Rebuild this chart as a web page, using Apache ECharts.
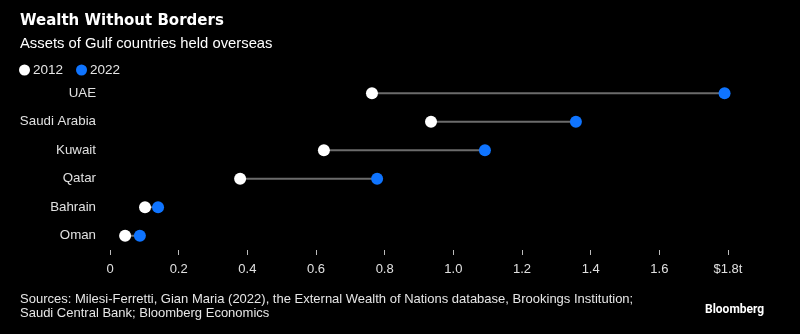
<!DOCTYPE html>
<html lang="en">
<head>
    <meta charset="UTF-8">
    <title>Wealth Without Borders</title>
    <script src="https://cdn.jsdelivr.net/npm/echarts@6/dist/echarts.min.js"></script>
    <style>
        html, body { margin: 0; padding: 0; background: #000; }
        #main { width: 800px; height: 334px; }
    </style>
</head>
<body>
    <div id="main"></div>
    <script>
        // overseas assets, trillions of dollars
        var countries = ['UAE', 'Saudi Arabia', 'Kuwait', 'Qatar', 'Bahrain', 'Oman'];
        var assets2012 = [0.763, 0.935, 0.623, 0.379, 0.102, 0.044];
        var assets2022 = [1.79, 1.357, 1.092, 0.778, 0.14, 0.087];
        var xTicks = ['0', '0.2', '0.4', '0.6', '0.8', '1.0', '1.2', '1.4', '1.6', '$1.8t'];

        var chart = echarts.init(document.getElementById('main'));

        var sans = '"Liberation Sans", Arial, sans-serif';

        var option = {
            backgroundColor: '#000',
            animation: false,
            title: [{
                text: 'Wealth Without Borders',
                left: 15, top: 9,
                textStyle: { color: '#fff', fontFamily: 'DejaVu Sans', fontWeight: 'bold', fontSize: 15 }
            }, {
                text: 'Assets of Gulf countries held overseas',
                left: 15, top: 31,
                textStyle: { color: '#fff', fontFamily: sans, fontWeight: 'normal', fontSize: 14.8 }
            }, {
                text: 'Sources: Milesi-Ferretti, Gian Maria (2022), the External Wealth of Nations database, Brookings Institution;\nSaudi Central Bank; Bloomberg Economics',
                left: 15, top: 288,
                textStyle: { color: '#e6e6e6', fontFamily: sans, fontWeight: 'normal', fontSize: 13, lineHeight: 13.5 }
            }, {
                text: 'Bloomberg',
                left: 700, top: 299,
                textStyle: { color: '#fff', fontFamily: 'Roboto', fontWeight: 'bold', fontSize: 12 }
            }],
            legend: {
                data: ['2012', '2022'],
                left: 14, top: 58,
                icon: 'circle',
                itemWidth: 11, itemHeight: 11,
                itemGap: 13,
                textStyle: { color: '#e6e6e6', fontFamily: sans, fontSize: 13.5, padding: [0, 0, 0, -2] }
            },
            grid: { left: 110, right: 72, top: 79, height: 171, containLabel: false },
            xAxis: {
                type: 'value',
                min: 0, max: 1.8, interval: 0.2,
                axisLine: { show: false },
                axisTick: { show: true, length: 5, lineStyle: { color: '#bbb' } },
                splitLine: { show: false },
                axisLabel: {
                    color: '#e0e0e0', fontFamily: sans, fontSize: 13, margin: 13,
                    formatter: function (v) { return xTicks[Math.round(v / 0.2)]; }
                }
            },
            yAxis: {
                type: 'category',
                data: countries,
                inverse: true,
                axisLine: { show: false },
                axisTick: { show: false },
                axisLabel: { color: '#e0e0e0', fontFamily: sans, fontSize: 13.3, margin: 14 }
            },
            series: [{
                // grey connector between the two years
                type: 'custom',
                silent: true,
                renderItem: function (params, api) {
                    var a = api.coord([api.value(0), api.value(2)]);
                    var b = api.coord([api.value(1), api.value(2)]);
                    return {
                        type: 'line',
                        shape: { x1: a[0], y1: a[1], x2: b[0], y2: b[1] },
                        style: { stroke: '#6b6b6b', lineWidth: 2 }
                    };
                },
                encode: { x: [0, 1], y: 2 },
                data: countries.map(function (c, i) { return [assets2012[i], assets2022[i], i]; }),
                z: 1
            }, {
                name: '2012',
                type: 'scatter',
                symbolSize: 12,
                itemStyle: { color: '#ffffff', opacity: 1 },
                data: assets2012.map(function (v, i) { return [v, i]; }),
                z: 3
            }, {
                name: '2022',
                type: 'scatter',
                symbolSize: 12,
                itemStyle: { color: '#0f74ff', opacity: 1 },
                data: assets2022.map(function (v, i) { return [v, i]; }),
                z: 2
            }]
        };

        chart.setOption(option);
    </script>
</body>
</html>
